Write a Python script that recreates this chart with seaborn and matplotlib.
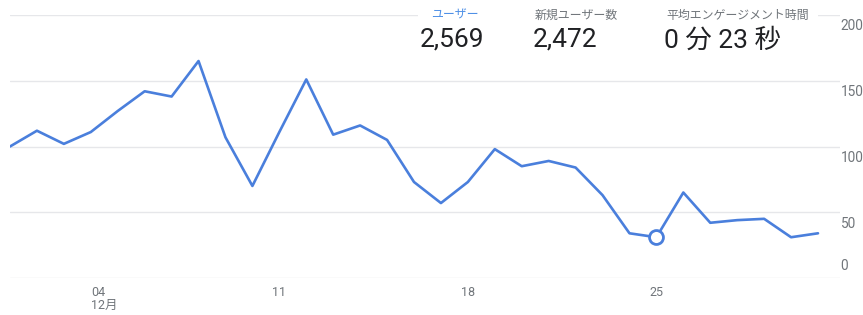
# ga_users_chart.py
# GA 風のユーザー数推移 (12月) を seaborn で再現

import numpy as np
import pandas as pd
import seaborn as sns
import matplotlib.pyplot as plt
import matplotlib.dates as mdates
import matplotlib.transforms as mtrans
from matplotlib.patches import Rectangle

# ================================
# 1. データ
# ================================
days = list(range(1, 32))
users = [100, 112, 102, 111, 127, 142, 138, 165, 107, 70,
         111, 151, 109, 116, 105, 73, 57, 73, 98, 85,
         89, 84, 63, 34, 31, 65, 42, 44, 45, 31, 34]

y_ticks = [0, 50, 100, 150, 200]
x_tick_days = [4, 11, 18, 25]
x_tick_labels = ["04\n12月", "11", "18", "25"]
highlight_day = 25

metric_names = ["ユーザー", "新規ユーザー数", "平均エンゲージメント時間"]
metric_values = ["2,569", "2,472", "0 分 23 秒"]

df = pd.DataFrame({
    "date": pd.to_datetime([f"2023-12-{d:02d}" for d in days]),
    "users": users,
})

LINE = "#4a7fdc"
GRID = "#e6e7ea"
GREY = "#70757a"

# ================================
# 2. 描画
# ================================
sns.set_theme(style="white")
plt.rcParams["font.family"] = ["Roboto", "Noto Sans CJK JP", "DejaVu Sans"]

W, H = 863, 315
fig = plt.figure(figsize=(W / 100, H / 100), dpi=100)
# 左 10px, 右 840px, 下 278px, 上 15px
ax = fig.add_axes([10 / W, 37 / H, 830 / W, 263 / H])

sns.lineplot(x="date", y="users", data=df, ax=ax, color=LINE, linewidth=1.9)
hl = df[df["date"].dt.day == highlight_day]
ax.plot(hl["date"], hl["users"], "o", ms=10, mfc="white", mec=LINE, mew=2, zorder=5)

x0 = mdates.date2num(df["date"].iloc[0])
ax.set_xlim(x0, x0 + 30 * 830 / 808)
ax.set_ylim(0, 200)

ax.set_yticks(y_ticks)
ax.yaxis.tick_right()
ax.grid(axis="y", color=GRID, linewidth=1)
ax.set_axisbelow(True)
for s in ax.spines.values():
    s.set_visible(False)
ax.tick_params(axis="y", length=0, pad=0.5, labelsize=9.8, labelcolor=GREY)
ax.set_yticklabels([str(v) for v in y_ticks])

ax.set_xticks([mdates.date2num(df["date"][df["date"].dt.day == d].iloc[0]) for d in x_tick_days])
ax.set_xticklabels(x_tick_labels, linespacing=1.0)
ax.tick_params(axis="x", length=0, pad=6, labelsize=9, labelcolor=GREY)
ax.set_xlabel("")
ax.set_ylabel("")

# 目盛ラベルの位置調整
for lab, v in zip(ax.get_yticklabels(), y_ticks):
    dy = 13 if v == 0 else -10
    lab.set_transform(lab.get_transform() + mtrans.ScaledTranslation(0, dy / 100, fig.dpi_scale_trans))
first = ax.get_xticklabels()[0]
first.set_ha("left")
first.set_multialignment("left")

# ================================
# 3. ヘッダー (指標)
# ================================
fig.add_artist(Rectangle((418 / W, 1 - 58 / H), 400 / W, 58 / H,
                         transform=fig.transFigure, facecolor="white", edgecolor="none", zorder=3))
name_x = [431, 535, 666]
for i, (nm, val) in enumerate(zip(metric_names, metric_values)):
    fig.text(name_x[i] / W, 1 - 15 / H, nm, fontsize=8.6, va="center", ha="left",
             color="#4d8fe6" if i == 0 else GREY, zorder=4,
             family=["Noto Sans CJK JP", "DejaVu Sans"])
    fig.text((name_x[i] - 11 if i == 0 else name_x[i] - 2) / W, 1 - 40 / H, val, fontsize=19,
             va="center", ha="left", color="#202124", zorder=4,
             family=["Roboto", "Noto Sans CJK JP"])

plt.savefig("out.png", dpi=100)
